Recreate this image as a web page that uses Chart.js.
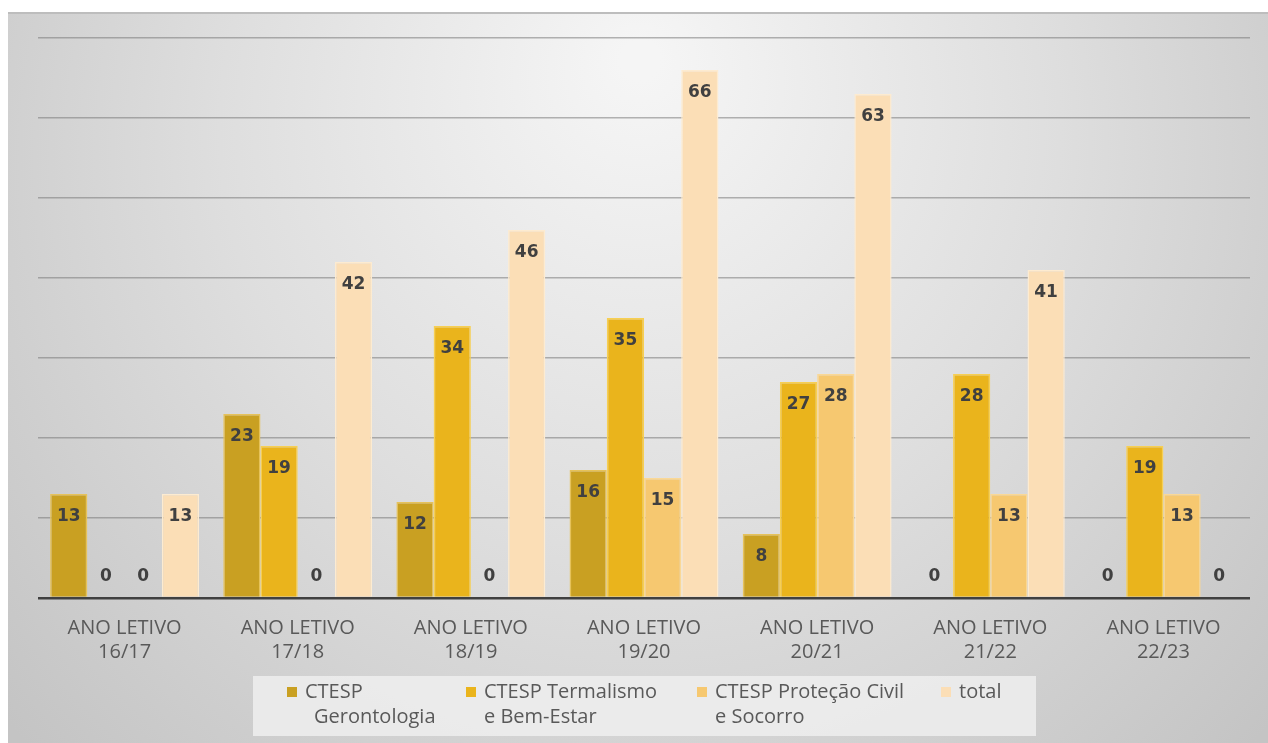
<!DOCTYPE html>
<html>
<head>
<meta charset="utf-8">
<script src="https://cdn.jsdelivr.net/npm/chart.js@4.4.1/dist/chart.umd.min.js"></script>
<style>
  html, body { margin: 0; padding: 0; background: #fff; }
  #wrap { width: 1268px; height: 743px; }
</style>
</head>
<body>
<div id="wrap"><canvas id="chart" width="1268" height="743"></canvas></div>
<script>
const categories = [
  ["ANO LETIVO", "16/17"],
  ["ANO LETIVO", "17/18"],
  ["ANO LETIVO", "18/19"],
  ["ANO LETIVO", "19/20"],
  ["ANO LETIVO", "20/21"],
  ["ANO LETIVO", "21/22"],
  ["ANO LETIVO", "22/23"],
];
const seriesNames = [
  ["CTESP", "Gerontologia"],
  ["CTESP Termalismo", "e Bem-Estar"],
  ["CTESP Proteção Civil", "e Socorro"],
  ["total"],
];
const gerontologia = [13, 23, 12, 16, 8, 0, 0];
const termalismo = [0, 19, 34, 35, 27, 28, 19];
const protecaoCivil = [0, 0, 0, 15, 28, 13, 13];
const total = [13, 42, 46, 66, 63, 41, 0];

const colors = ["#c9a022", "#eab41c", "#f6c870", "#fbdeb6"];
const borders = ["#e6c25a", "#f7cf52", "#fad896", "#fdebd0"];

const frameBg = {
  id: "frameBg",
  beforeDraw(chart) {
    const c = chart.ctx;
    const w = chart.width, h = chart.height;
    c.save();
    c.fillStyle = "#ffffff";
    c.fillRect(0, 0, w, h);
    const g = c.createRadialGradient(640, 60, 20, 640, 200, 820);
    g.addColorStop(0, "#f5f5f5");
    g.addColorStop(0.5, "#dedede");
    g.addColorStop(1, "#c4c4c4");
    c.fillStyle = g;
    c.fillRect(8, 12, w - 8, h - 12);
    c.fillStyle = "#bdbdbd";
    c.fillRect(8, 12, w - 8, 2);
    c.restore();
  },
};

const barLabels = {
  id: "barLabels",
  afterDatasetsDraw(chart) {
    const c = chart.ctx;
    c.save();
    c.font = "bold 17px 'DejaVu Sans'";
    c.fillStyle = "#404040";
    c.textAlign = "center";
    c.textBaseline = "middle";
    chart.data.datasets.forEach((ds, i) => {
      const meta = chart.getDatasetMeta(i);
      meta.data.forEach((el, j) => {
        const v = ds.data[j];
        const y = v > 0 ? el.y + 23 : el.base - 21;
        c.fillText(String(v), el.x, y);
      });
    });
    c.restore();
  },
};

const customLegend = {
  id: "customLegend",
  afterDraw(chart) {
    const c = chart.ctx;
    c.save();
    c.fillStyle = "rgba(238,238,238,0.85)";
    c.fillRect(253, 676, 783, 60);
    const xs = [287, 466, 697, 941];
    c.font = "20px 'Open Sans'";
    c.textBaseline = "middle";
    c.textAlign = "left";
    seriesNames.forEach((lines, i) => {
      c.fillStyle = colors[i];
      c.fillRect(xs[i], 687, 10, 10);
      c.fillStyle = "#595959";
      lines.forEach((t, k) => {
        const x = k === 0 ? xs[i] + 18 : xs[i] + (i === 0 ? 27 : 18);
        c.fillText(t, x, 692 + k * 25);
      });
    });
    c.restore();
  },
};

new Chart(document.getElementById("chart"), {
  type: "bar",
  data: {
    labels: categories,
    datasets: [
      { label: seriesNames[0].join(" "), data: gerontologia, backgroundColor: colors[0], borderColor: borders[0], borderWidth: 1.5 },
      { label: seriesNames[1].join(" "), data: termalismo, backgroundColor: colors[1], borderColor: borders[1], borderWidth: 1.5 },
      { label: seriesNames[2].join(" "), data: protecaoCivil, backgroundColor: colors[2], borderColor: borders[2], borderWidth: 1.5 },
      { label: seriesNames[3].join(" "), data: total, backgroundColor: colors[3], borderColor: borders[3], borderWidth: 1.5 },
    ],
  },
  options: {
    responsive: false,
    animation: false,
    layout: { padding: { top: 38, right: 18, left: 0, bottom: 0 } },
    datasets: { bar: { categoryPercentage: 0.86, barPercentage: 1.0 } },
    plugins: {
      legend: { display: false },
      tooltip: { enabled: false },
    },
    scales: {
      x: {
        grid: { display: false },
        border: { display: false },
        ticks: {
          color: "#595959",
          font: { family: "'Open Sans'", size: 20 },
          padding: 10,
          maxRotation: 0,
          autoSkip: false,
        },
        afterFit(scale) { scale.height = 145; },
      },
      y: {
        min: 0,
        max: 70,
        ticks: { display: false, stepSize: 10 },
        border: { display: false },
        grid: {
          drawTicks: false,
          color: (ctx) => (ctx.tick && ctx.tick.value === 0 ? "#404040" : "rgba(120,120,120,0.55)"),
          lineWidth: (ctx) => (ctx.tick && ctx.tick.value === 0 ? 2.5 : 1.5),
        },
        afterFit(scale) { scale.width = 38; },
      },
    },
  },
  plugins: [frameBg, barLabels, customLegend],
});
</script>
</body>
</html>
